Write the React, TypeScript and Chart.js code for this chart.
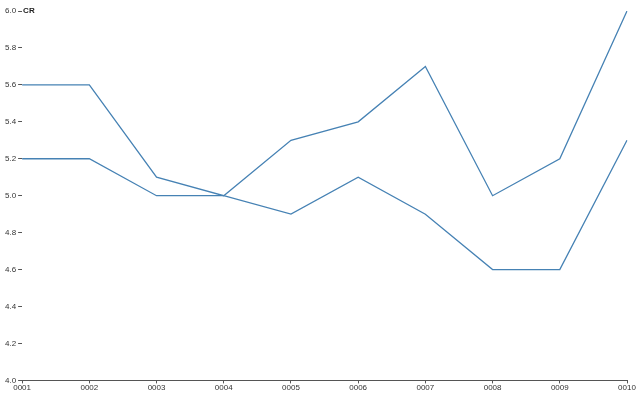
import React, { useEffect, useRef } from "react";
import { Chart, registerables } from "chart.js";

Chart.register(...registerables);

const categories = ["0001", "0002", "0003", "0004", "0005", "0006", "0007", "0008", "0009", "0010"];
const seriesA = [5.6, 5.6, 5.1, 5.0, 5.3, 5.4, 5.7, 5.0, 5.2, 6.0];
const seriesB = [5.2, 5.2, 5.0, 5.0, 4.9, 5.1, 4.9, 4.6, 4.6, 5.3];
const yTitle = "CR";

const FONT = "'Liberation Sans', Arial, sans-serif";

const titlePlugin = {
  id: "yTitle",
  afterDraw(chart: any) {
    const { ctx, scales } = chart;
    const y = scales.y.getPixelForValue(6.0);
    ctx.save();
    ctx.font = "bold 8px " + FONT;
    ctx.fillStyle = "#222";
    ctx.textBaseline = "middle";
    ctx.textAlign = "left";
    ctx.fillText(yTitle, chart.chartArea.left + 1, y);
    ctx.restore();
  },
};

export default function App() {
  const ref = useRef<HTMLCanvasElement | null>(null);
  useEffect(() => {
    document.body.style.margin = "0";
    const chart = new Chart(ref.current!, {
      type: "line",
      data: {
        labels: categories,
        datasets: [
          { data: seriesA, borderColor: "#4682b4", borderWidth: 1.3, pointRadius: 0, tension: 0, fill: false },
          { data: seriesB, borderColor: "#4682b4", borderWidth: 1.3, pointRadius: 0, tension: 0, fill: false },
        ],
      },
      options: {
        animation: false,
        responsive: false,
        layout: { padding: { top: 11, right: 13, left: 3, bottom: 7 } },
        plugins: { legend: { display: false }, tooltip: { enabled: false } },
        scales: {
          x: {
            type: "category",
            offset: false,
            grid: { drawOnChartArea: false, drawTicks: true, tickLength: 3, color: "#555" },
            border: { display: true, color: "#555", width: 1 },
            ticks: { maxRotation: 0, autoSkip: false, padding: 0, color: "#333", font: { size: 8, family: FONT } },
          },
          y: {
            min: 4,
            max: 6,
            grid: { drawOnChartArea: false, drawTicks: true, tickLength: 4, color: "#555" },
            border: { display: false },
            ticks: {
              stepSize: 0.2,
              padding: 2,
              color: "#333",
              font: { size: 8, family: FONT },
              callback: (v: any) => Number(v).toFixed(1),
            },
          },
        },
      },
      plugins: [titlePlugin],
    });
    return () => chart.destroy();
  }, []);
  return (
    <div style={{ width: 640, height: 400 }}>
      <canvas ref={ref} width={640} height={400} style={{ display: "block" }} />
    </div>
  );
}
